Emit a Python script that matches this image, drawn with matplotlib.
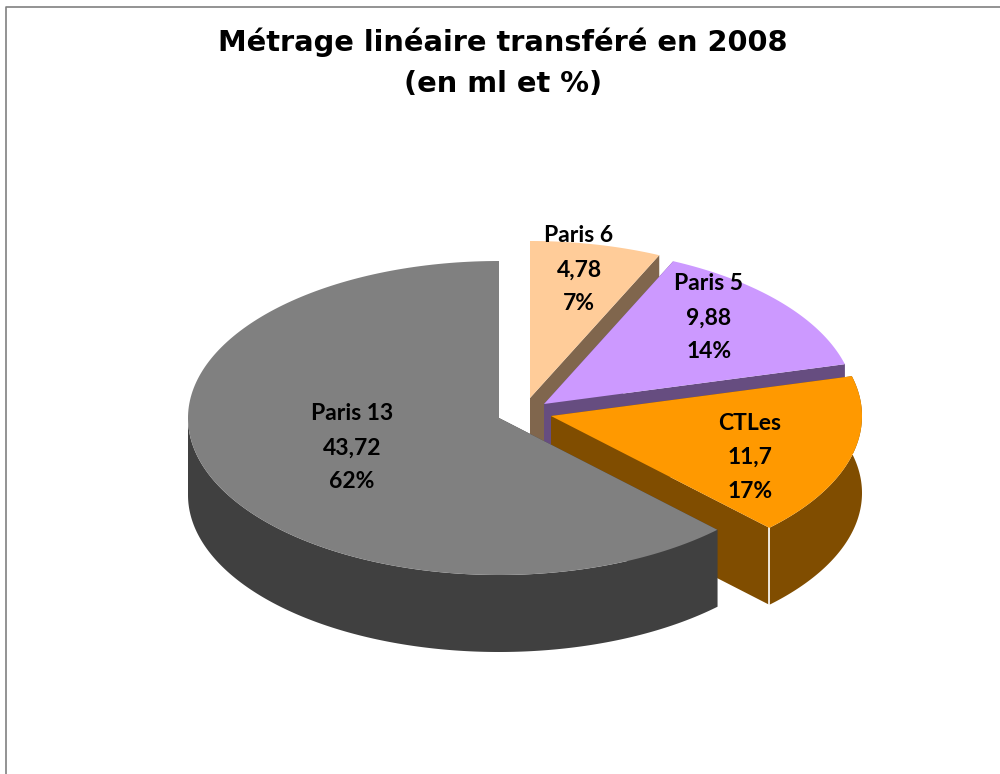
import numpy as np
import matplotlib.pyplot as plt

# values (clockwise from the top)
names = ['Paris 6', 'Paris 5', 'CTLes', 'Paris 13']
values = [4.78, 9.88, 11.7, 43.72]
value_labels = ['4,78', '9,88', '11,7', '43,72']
pct_labels = ['7%', '14%', '17%', '62%']

top_colors = ['#FFCC99', '#CC99FF', '#FF9900', '#808080']
side_colors = ['#80664D', '#664D80', '#804D00', '#404040']

# pie centre of each slice in pixels (exploded ones are shifted)
centers = [(530, 398), (544, 404), (551, 416), (499, 418)]
label_pos = [(579, 270), (709, 318), (750, 457), (352, 448)]
rx, ry = 311, 157
depth = 77


def rim(cx, cy, a, b):
    t = np.radians(np.linspace(a, b, 200))
    return cx + rx * np.sin(t), cy - ry * np.cos(t)


fig = plt.figure(figsize=(10, 7.74), dpi=100)
ax = fig.add_axes([0, 0, 1, 1])
ax.set_xlim(0, 1000)
ax.set_ylim(774, 0)
ax.axis('off')

# frame, only top and left show in the picture
ax.plot([1000, 6, 6], [7, 7, 774], color='#808080', lw=1.2)

edges = np.cumsum([0] + values) / sum(values) * 360

for i in range(len(values)):
    a, b = edges[i], edges[i + 1]
    cx, cy = centers[i]
    x, y = rim(cx, cy, a, b)

    # cut faces first
    ax.fill([cx, x[0], x[0], cx], [cy, y[0], y[0] + depth, cy + depth],
            color=side_colors[i], lw=0, zorder=i * 3 + 1)
    ax.fill([cx, x[-1], x[-1], cx], [cy, y[-1], y[-1] + depth, cy + depth],
            color=side_colors[i], lw=0, zorder=i * 3 + 1)

    # outer wall, only the part facing us
    lo, hi = max(a, 75), min(b, 270)
    if hi > lo:
        wx, wy = rim(cx, cy, lo, hi)
        ax.fill(np.r_[wx, wx[::-1]], np.r_[wy, wy[::-1] + depth],
                color=side_colors[i], lw=0, zorder=i * 3 + 2)

    # top of the slice
    ax.fill(np.r_[cx, x], np.r_[cy, y], color=top_colors[i], lw=0, zorder=i * 3 + 3)

    # white seam at the front corner of the CTLes slice
    if names[i] == 'CTLes':
        ax.plot([x[-1], x[-1]], [y[-1], y[-1] + depth], color='white', lw=1.2, zorder=i * 3 + 2.5)

    lx, ly = label_pos[i]
    ax.text(lx, ly - 34, names[i], family='Lato', weight='bold', fontsize=16.5,
            ha='center', va='center', color='black', zorder=20)
    ax.text(lx, ly, value_labels[i], family='Lato', weight='bold', fontsize=16.5,
            ha='center', va='center', color='black', zorder=20)
    ax.text(lx, ly + 34, pct_labels[i], family='Lato', weight='bold', fontsize=16.5,
            ha='center', va='center', color='black', zorder=20)

ax.text(503, 42, 'Métrage linéaire transféré en 2008', family='DejaVu Sans', weight='bold',
        fontsize=20.8, ha='center', va='center')
ax.text(503, 84, '(en ml et %)', family='DejaVu Sans', weight='bold',
        fontsize=20.8, ha='center', va='center')

fig.savefig('out.png', dpi=100)
